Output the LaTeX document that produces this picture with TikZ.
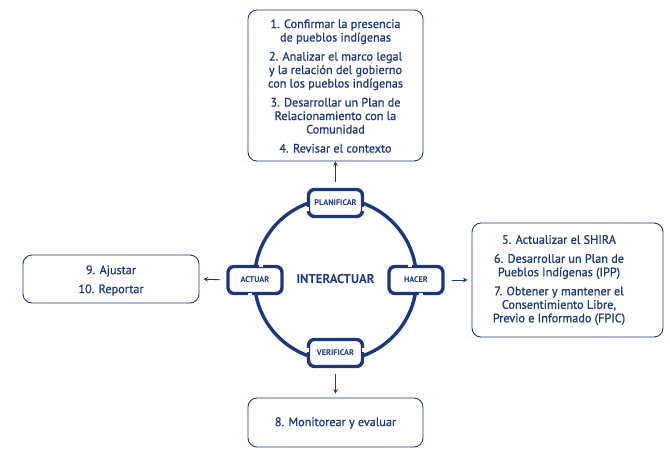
\documentclass[tikz,border=0pt]{standalone}
\usepackage{fontspec}
\setmainfont{PT Sans}
\newfontfamily\boxfont{PT Sans}[FakeBold=0.9]
\usetikzlibrary{arrows.meta,calc}
\definecolor{navy}{RGB}{28,55,122}
\begin{document}
\begin{tikzpicture}[x=1pt,y=-1pt,
  box/.style={draw=navy, line width=0.9pt, rounded corners=9pt, inner sep=0pt},
  txt/.style={text=navy, align=center, font=\boxfont\fontsize{12.2}{13.5}\selectfont, inner sep=0pt},
  badge/.style={draw=navy, fill=white, line width=3.4pt, rounded corners=6pt, minimum width=54pt, minimum height=27pt, inner sep=0pt, text=navy, font=\bfseries\fontsize{8.2}{9}\selectfont},
  arr/.style={draw=navy, line width=0.9pt, -{Stealth[length=4.5pt,width=4.5pt]}},
  gapline/.style={draw=white, line width=5pt}]
\useasboundingbox (0,0) rectangle (670,456);
% boxes
\node[box, minimum width=175pt, minimum height=151pt] (top) at (335.5,85.5) {};
\node[txt] (toptxt) at (335.5,86) {1. Confirmar la presencia\\de pueblos indígenas\\[5.5pt]2. Analizar el marco legal\\y la relación del gobierno\\con los pueblos indígenas\\[5.5pt]3. Desarrollar un Plan de\\Relacionamiento con la\\Comunidad\\[5.5pt]4. Revisar el contexto};
\node[box, minimum width=191pt, minimum height=114pt] (right) at (567.5,280) {};
\node[txt] (righttxt) at (559,280) {5. Actualizar el SHIRA\\[5.5pt]6. Desarrollar un Plan de\\Pueblos Indígenas (IPP)\\[5.5pt]7. Obtener y mantener el\\Consentimiento Libre,\\Previo e Informado (FPIC)};
\node[box, minimum width=176pt, minimum height=48pt] (left) at (111,279) {};
\node[txt] (lefttxt) at (111,280.5) {9. Ajustar\\[5.5pt]10. Reportar};
\node[box, minimum width=175pt, minimum height=49pt] (bottom) at (335.5,422.5) {};
\node[txt] (bottomtxt) at (335.5,423) {8. Monitorear y evaluar};
% cycle
\coordinate (c) at (335.5,279.5);
\draw[navy, line width=3.4pt] (c) circle[radius=81pt];
\node[text=navy, font=\bfseries\fontsize{12.8}{14}\selectfont] (inter) at (c) {INTERACTUAR};
\node[badge] (plan) at (335.5,203) {PLANIFICAR};
\node[badge] (hacer) at (416,280) {HACER};
\node[badge] (verif) at (335.5,353) {VERIFICAR};
\node[badge] (actuar) at (255,280) {ACTUAR};
% gaps in badge outlines
\draw[gapline] ([yshift=-3.5pt]plan.west) -- ([yshift=-7.5pt]plan.west);
\draw[gapline] ([yshift=-3.5pt]plan.east) -- ([yshift=-7.5pt]plan.east);
\draw[gapline] ([yshift=1pt]verif.west) -- ([yshift=5pt]verif.west);
\draw[gapline] ([yshift=1pt]verif.east) -- ([yshift=5pt]verif.east);
\draw[gapline] ([xshift=4pt]actuar.north) -- ([xshift=8pt]actuar.north);
\draw[gapline] ([xshift=-7pt]actuar.south) -- ([xshift=-3pt]actuar.south);
\draw[gapline] ([xshift=-8pt]hacer.north) -- ([xshift=-4pt]hacer.north);
\draw[gapline] ([xshift=3pt]hacer.south) -- ([xshift=7pt]hacer.south);
% arrows
\draw[arr, shorten <=6pt] (plan.north) -- (top.south);
\draw[arr, shorten <=7pt, shorten >=4pt] (hacer.east) -- (right.west);
\draw[arr, shorten <=6pt, shorten >=4pt] (actuar.west) -- (left.east);
\draw[arr, shorten <=6pt, shorten >=4pt] (verif.south) -- (bottom.north);
\end{tikzpicture}
\end{document}
